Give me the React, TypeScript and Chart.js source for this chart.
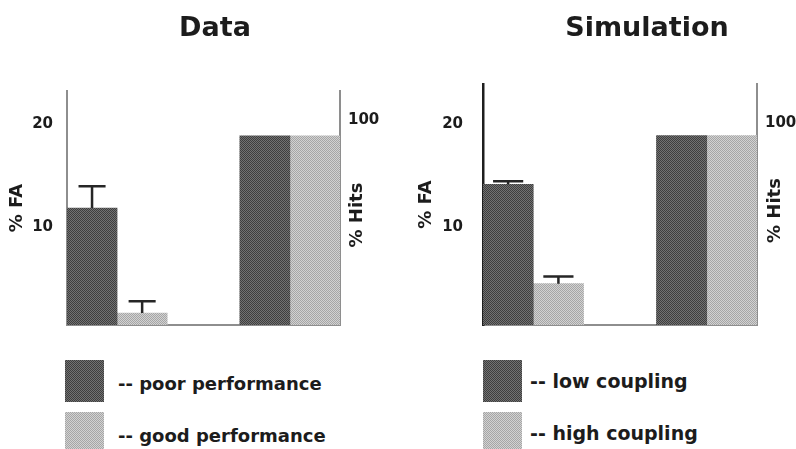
import React, { useEffect, useRef } from 'react';
import { Chart, registerables } from 'chart.js';

Chart.register(...registerables);

const FONT = '"DejaVu Sans", "Liberation Sans", sans-serif';
const TEXT = '#1c1c1c';

// ---- data ----
const panelTitles = ['Data', 'Simulation'];
const seriesLabels = [
  ['-- poor performance', '-- good performance'],
  ['-- low coupling', '-- high coupling'],
];
const axisTitles = ['% FA', '% Hits'];
// bar centres along the x axis, in bar-width units: FA pair, then Hits pair
const barSlots = [0.5, 1.5, 3.95, 4.95];
const dataFA = [11.3, 1.15];
const dataFAErr = [2.1, 1.15];
const dataHits = [89.6, 89.6];
const simFA = [13.6, 4.0];
const simFAErr = [0.3, 0.7];
const simHits = [91, 91];
const faTicks = [10, 20];
const hitsTicks = [100];

// ---- layout / style ----
const panels = [
  {
    title: panelTitles[0], fa: dataFA, err: dataFAErr, hits: dataHits, legend: seriesLabels[0],
    left: 0, width: 430, leftAxisW: 67, rightAxisW: 90, titlePadBottom: 45.6,
    faMax: 22.6, hitsMax: 110.8, faPad: 14, faTitlePad: 7, solidLeft: false,
    hitsDx: 17, hitsDy: 7, legendLeft: 65, legendTextLeft: 118, legendY: [385, 437], legendSize: 18,
    capFrac: 0.27,
  },
  {
    title: panelTitles[1], fa: simFA, err: simFAErr, hits: simHits, legend: seriesLabels[1],
    left: 400, width: 494, leftAxisW: 83, rightAxisW: 137, titlePadBottom: 38.6,
    faMax: 23.3, hitsMax: 115.8, faPad: 20, faTitlePad: 16, solidLeft: true,
    hitsDx: 18, hitsDy: 6, legendLeft: 483, legendTextLeft: 530, legendY: [382, 434], legendSize: 19,
    capFrac: 0.3,
  },
];

const DARK = ['#3e3e3e', '#727272'];
const LIGHT = ['#a6a6a6', '#d2d2d2'];
const CANVAS_H = 340;

function makePattern(colors: string[]) {
  const c = document.createElement('canvas');
  c.width = 2;
  c.height = 2;
  const g = c.getContext('2d')!;
  g.fillStyle = colors[0];
  g.fillRect(0, 0, 2, 2);
  g.fillStyle = colors[1];
  g.fillRect(1, 0, 1, 1);
  g.fillRect(0, 1, 1, 1);
  return g.createPattern(c, 'repeat')!;
}

function Panel({ p }: { p: typeof panels[number] }) {
  const ref = useRef<HTMLCanvasElement | null>(null);
  useEffect(() => {
    const dark = makePattern(DARK);
    const light = makePattern(LIGHT);
    const fills = [dark, light];

    const errorBars = {
      id: 'errorBars',
      afterDatasetsDraw(chart: any) {
        const { ctx } = chart;
        const yS = chart.scales.fa;
        ctx.save();
        ctx.strokeStyle = '#262626';
        ctx.lineWidth = 2.5;
        for (let i = 0; i < 2; i++) {
          const bar = chart.getDatasetMeta(i).data[0] as any;
          if (!bar) continue;
          const yTop = yS.getPixelForValue(p.fa[i] + p.err[i]);
          const half = bar.width * p.capFrac;
          ctx.beginPath();
          ctx.moveTo(bar.x, bar.y);
          ctx.lineTo(bar.x, yTop);
          ctx.moveTo(bar.x - half, yTop);
          ctx.lineTo(bar.x + half, yTop);
          ctx.stroke();
        }
        ctx.restore();
      },
    };

    const hitsTitle = {
      id: 'hitsTitle',
      afterDraw(chart: any) {
        const { ctx, chartArea } = chart;
        ctx.save();
        ctx.translate(chartArea.right + p.hitsDx, (chartArea.top + chartArea.bottom) / 2 + p.hitsDy);
        ctx.rotate(-Math.PI / 2);
        ctx.font = `bold 18px ${FONT}`;
        ctx.textAlign = 'center';
        ctx.textBaseline = 'middle';
        ctx.fillStyle = TEXT;
        ctx.fillText(axisTitles[1], 0, 0);
        ctx.restore();
      },
    };

    const dotted = { display: true, color: '#8e8e8e', width: 2, dash: [2, 1] };
    const noGrid = { display: false, drawTicks: false, tickLength: 0 };
    const fixY = (w: number) => (s: any) => {
      s.width = w;
      s.paddingTop = 0;
      s.paddingBottom = 0;
    };

    const chart = new Chart(ref.current!, {
      type: 'bar',
      data: {
        datasets: [
          { label: p.legend[0], data: [{ x: barSlots[0], y: p.fa[0] }], yAxisID: 'fa', backgroundColor: fills[0] },
          { label: p.legend[1], data: [{ x: barSlots[1], y: p.fa[1] }], yAxisID: 'fa', backgroundColor: fills[1] },
          { label: p.legend[0], data: [{ x: barSlots[2], y: p.hits[0] }], yAxisID: 'hits', backgroundColor: fills[0] },
          { label: p.legend[1], data: [{ x: barSlots[3], y: p.hits[1] }], yAxisID: 'hits', backgroundColor: fills[1] },
        ] as any,
      },
      options: {
        responsive: false,
        animation: false,
        events: [],
        datasets: {
          bar: {
            grouped: false,
            categoryPercentage: 1,
            barPercentage: 1,
            borderWidth: 0,
          },
        },
        layout: { padding: { bottom: 15 } },
        plugins: {
          legend: { display: false },
          tooltip: { enabled: false },
          title: {
            display: true,
            text: p.title,
            color: TEXT,
            font: { family: FONT, size: 27, weight: 'bold' },
            padding: { top: 13, bottom: p.titlePadBottom },
          },
        },
        scales: {
          x: {
            type: 'linear',
            min: 0,
            max: 5.45,
            offset: false,
            afterBuildTicks: (s: any) => { s.ticks = [{ value: 0 }, { value: 5.45 }]; },
            afterFit: (s: any) => { s.height = 0; },
            ticks: { display: false, padding: 0 },
            grid: noGrid,
            border: dotted,
          },
          fa: {
            type: 'linear',
            position: 'left',
            min: 0,
            max: p.faMax,
            z: 1,
            afterBuildTicks: (s: any) => { s.ticks = faTicks.map((v) => ({ value: v })); },
            afterFit: fixY(p.leftAxisW),
            ticks: {
              color: TEXT,
              padding: p.faPad,
              labelOffset: 6,
              font: { family: FONT, size: 15, weight: 'bold' },
            },
            grid: noGrid,
            border: p.solidLeft
              ? { display: true, color: '#1e1e1e', width: 2.5 }
              : dotted,
            title: {
              display: true,
              text: axisTitles[0],
              color: TEXT,
              font: { family: FONT, size: 18, weight: 'bold' },
              padding: { top: p.faTitlePad, bottom: 0 },
            },
          },
          hits: {
            type: 'linear',
            position: 'right',
            min: 0,
            max: p.hitsMax,
            z: 1,
            afterBuildTicks: (s: any) => { s.ticks = hitsTicks.map((v) => ({ value: v })); },
            afterFit: fixY(p.rightAxisW),
            ticks: {
              color: TEXT,
              padding: 8,
              labelOffset: 6,
              font: { family: FONT, size: 15, weight: 'bold' },
            },
            grid: noGrid,
            border: dotted,
          },
        },
      } as any,
      plugins: [errorBars, hitsTitle],
    });
    return () => chart.destroy();
  }, [p]);

  return (
    <canvas
      ref={ref}
      width={p.width}
      height={CANVAS_H}
      style={{ position: 'absolute', left: p.left, top: 0, width: p.width, height: CANVAS_H }}
    />
  );
}

const checker = (c: string[]) =>
  `repeating-conic-gradient(${c[0]} 0% 25%, ${c[1]} 0% 50%) 0 0 / 2px 2px`;

function Legend({ p }: { p: typeof panels[number] }) {
  const boxes = [
    { top: 360, bg: checker(DARK) },
    { top: 412, bg: checker(LIGHT) },
  ];
  return (
    <>
      {boxes.map((b, i) => (
        <div
          key={'b' + i}
          style={{ position: 'absolute', left: p.legendLeft, top: b.top, width: 39, height: 42, background: b.bg }}
        />
      ))}
      {p.legend.map((t, i) => (
        <div
          key={'t' + i}
          style={{
            position: 'absolute',
            left: p.legendTextLeft,
            top: p.legendY[i] - 12.5,
            font: `bold ${p.legendSize}px ${FONT}`,
            lineHeight: '22px',
            color: TEXT,
            whiteSpace: 'nowrap',
          }}
        >
          {t}
        </div>
      ))}
    </>
  );
}

export default function App() {
  return (
    <div
      style={{
        position: 'fixed',
        left: 0,
        top: 0,
        width: 796,
        height: 449,
        overflow: 'hidden',
        background: '#fff',
      }}
    >
      {panels.map((p, i) => (
        <Panel key={i} p={p} />
      ))}
      {panels.map((p, i) => (
        <Legend key={'l' + i} p={p} />
      ))}
    </div>
  );
}
